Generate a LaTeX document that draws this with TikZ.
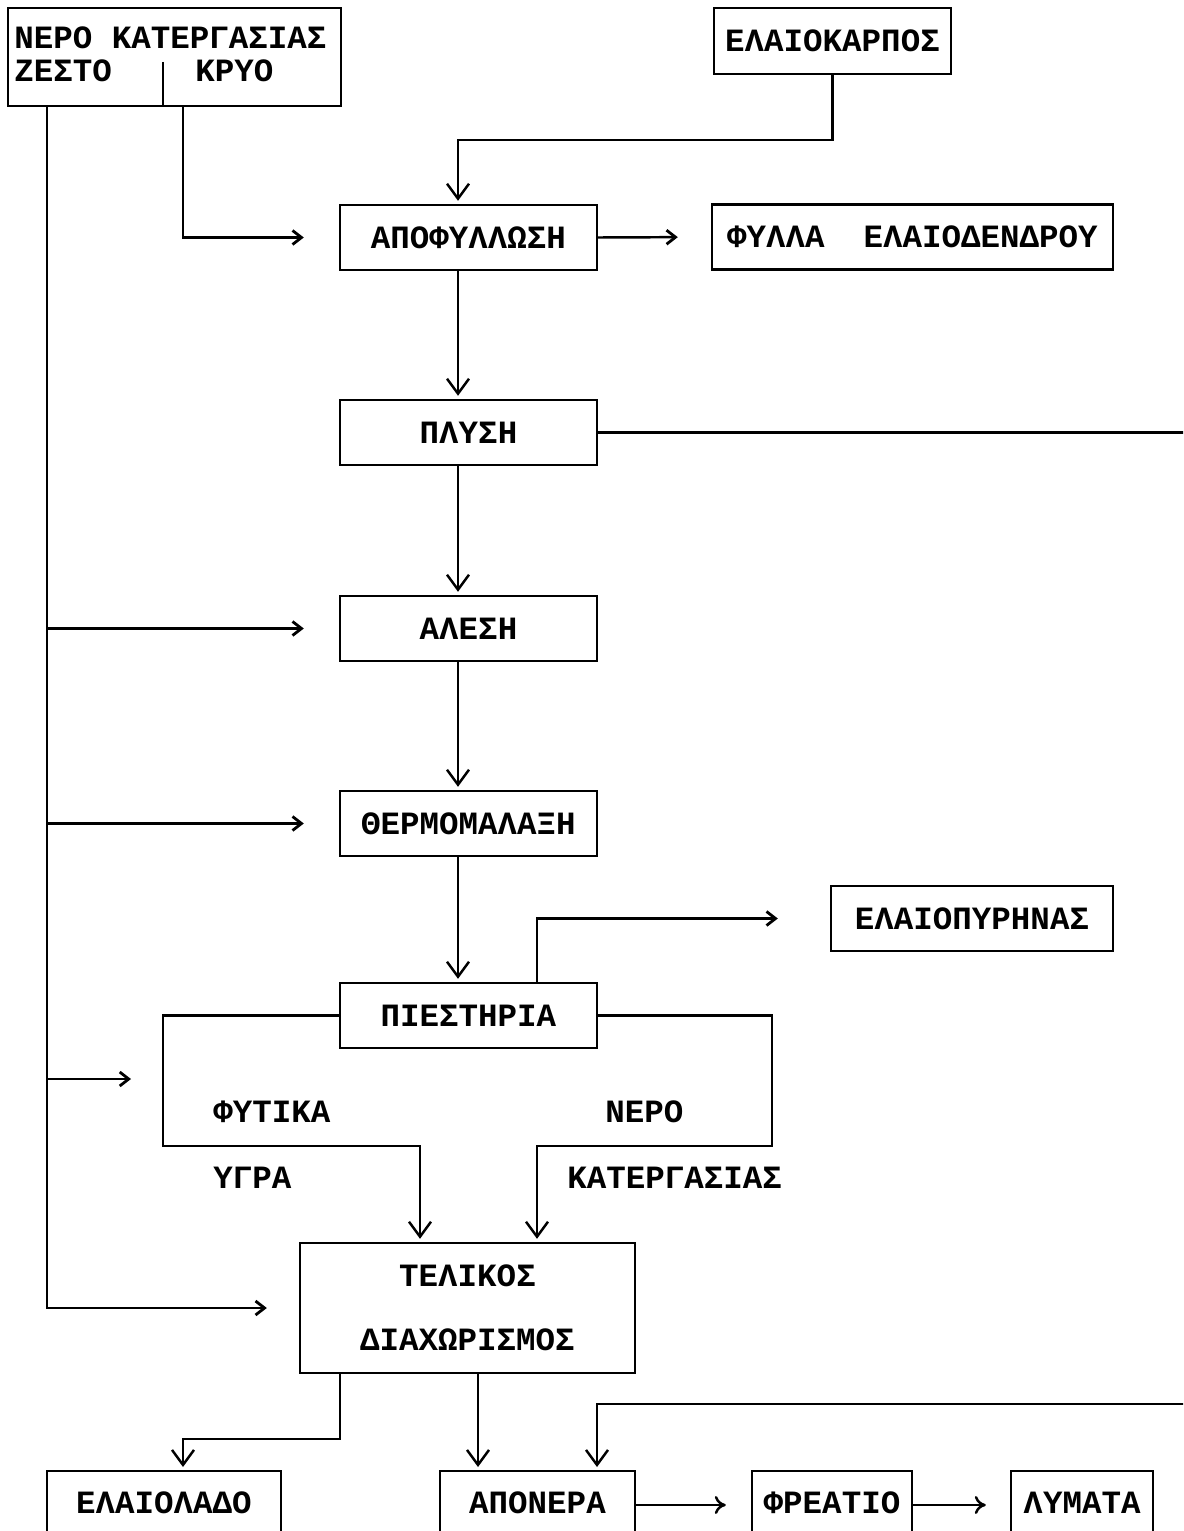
\documentclass[tikz,border=0pt]{standalone}
\usepackage{fontspec}
\setmainfont{Liberation Mono}
\usetikzlibrary{arrows.meta}
\begin{document}
\begin{tikzpicture}[x=0.02cm,y=-0.02cm,
  every node/.style={inner sep=0pt,font=\bfseries\fontsize{18.5}{22}\selectfont},
  box/.style={draw,line width=1.4pt,minimum height=1.3cm},
  lowbox/.style={draw,line width=1.4pt,anchor=north,text height=0.85cm,text depth=1.4cm},
  ln/.style={line width=1.4pt},
  arr/.style={ln,shorten >=0.06cm,-{Straight Barb[length=0.3cm,width=0.44cm,line width=1.4pt]}},
  arrs/.style={ln,-{Straight Barb[length=0.18cm,width=0.28cm,line width=1.6pt]}},
  arrc/.style={ln,-{To[length=0.22cm,width=0.36cm,line width=1.4pt]}},
  lbl/.style={anchor=west}
]
\useasboundingbox (0,0) rectangle (1183,1531);
\clip (0,0) rectangle (1183,1531);
\fill[white] (0,0) rectangle (1183,1531);

% ---- nodes
\node[box,minimum width=6.66cm,minimum height=1.96cm] (nero) at (174.5,57) {};
\node[anchor=base west] (nt1) at (14,49) {ΝΕΡΟ ΚΑΤΕΡΓΑΣΙΑΣ};
\node[anchor=base west] (nt2) at (14,82) {ΖΕΣΤΟ};
\node[anchor=base west] (nt3) at (195,82) {ΚΡΥΟ};
\coordinate (div) at (163,62);

\node[box,minimum width=4.74cm,minimum height=1.32cm] (karp) at (832.5,41) {ΕΛΑΙΟΚΑΡΠΟΣ};
\node[box,minimum width=5.14cm] (apof) at (468.5,237.5) {ΑΠΟΦΥΛΛΩΣΗ};
\node[box,minimum width=8.02cm] (fylla) at (912.5,237) {ΦΥΛΛΑ~~ΕΛΑΙΟΔΕΝΔΡΟΥ};
\node[box,minimum width=5.14cm] (plysi) at (468.5,432.5) {ΠΛΥΣΗ};
\node[box,minimum width=5.14cm] (alesi) at (468.5,628.5) {ΑΛΕΣΗ};
\node[box,minimum width=5.14cm] (thermo) at (468.5,823.5) {ΘΕΡΜΟΜΑΛΑΞΗ};
\node[box,minimum width=5.64cm] (pyr) at (972,918.5) {ΕΛΑΙΟΠΥΡΗΝΑΣ};
\node[box,minimum width=5.14cm] (pies) at (468.5,1015.5) {ΠΙΕΣΤΗΡΙΑ};
\node[box,minimum width=6.70cm,minimum height=2.60cm,align=center,
      font=\bfseries\fontsize{18.5}{36.4}\selectfont] (tel) at (467.5,1308) {ΤΕΛΙΚΟΣ\\ΔΙΑΧΩΡΙΣΜΟΣ};

\node[lbl] (l1) at (213,1112) {ΦΥΤΙΚΑ};
\node[lbl] (l2) at (213,1178) {ΥΓΡΑ};
\node[lbl] (l3) at (605,1112) {ΝΕΡΟ};
\node[lbl] (l4) at (567,1178) {ΚΑΤΕΡΓΑΣΙΑΣ};

\node[lowbox,minimum width=4.68cm] (lado) at (164,1470) {ΕΛΑΙΟΛΑΔΟ};
\node[lowbox,minimum width=3.90cm] (aponera) at (537.5,1470) {ΑΠΟΝΕΡΑ};
\node[lowbox,minimum width=3.20cm] (freatio) at (832,1470) {ΦΡΕΑΤΙΟ};
\node[lowbox,minimum width=2.84cm] (lymata) at (1082,1470) {ΛΥΜΑΤΑ};

% ---- helper coordinates
\coordinate (hx) at (47,0);
\coordinate (cx) at (183,0);
\coordinate (vx) at (458,0);
\coordinate (fw) at (131,1079);
\coordinate (re1) at (1190,432.5);
\coordinate (re2) at (1190,1404);
\coordinate (ax) at (597,0);
\coordinate (px) at (537,0);
\coordinate (lc) at (163,1146);
\coordinate (lx) at (420,0);
\coordinate (rc) at (772,1146);
\coordinate (bx1) at (340,0);
\coordinate (ox) at (183,0);
\coordinate (mx) at (478,0);
\coordinate (by) at (0,1505);

% ---- connectors
\draw[ln] (div) -- (nero.south -| div);
\draw[arrs,shorten >=0.64cm] (nero.south -| hx) |- (tel.west);
\draw[arrs,shorten >=0.7cm] (hx |- alesi.west) -- (alesi.west);
\draw[arrs,shorten >=0.7cm] (hx |- thermo.west) -- (thermo.west);
\draw[arrs] (hx |- fw) -- (fw);
\draw[arrs,shorten >=0.7cm] (nero.south -| cx) |- (apof.west);
\draw[arr] (karp.south) -- ++(0,65) -| (apof.north -| vx);
\draw[arrs,shorten >=0.66cm] (apof.east) -- (fylla.west);
\draw[arr] (apof.south -| vx) -- (plysi.north -| vx);
\draw[arr] (plysi.south -| vx) -- (alesi.north -| vx);
\draw[arr] (alesi.south -| vx) -- (thermo.north -| vx);
\draw[arr] (thermo.south -| vx) -- (pies.north -| vx);
\draw[ln] (plysi.east) -- (re1);
\draw[arrs,shorten >=1.04cm] (pies.north -| px) |- (pyr.west);
\draw[arr] (pies.west) -| (lc) -| (tel.north -| lx);
\draw[arr] (pies.east) -| (rc) -| (tel.north -| px);
\draw[arr] (tel.south -| bx1) -- ++(0,65) -| (lado.north -| ox);
\draw[arr] (tel.south -| mx) -- (aponera.north -| mx);
\draw[arr] (re2) -| (aponera.north -| ax);
\draw[arrc,shorten >=0.5cm] (aponera.east |- by) -- (freatio.west |- by);
\draw[arrc,shorten >=0.48cm] (freatio.east |- by) -- (lymata.west |- by);
\end{tikzpicture}
\end{document}
